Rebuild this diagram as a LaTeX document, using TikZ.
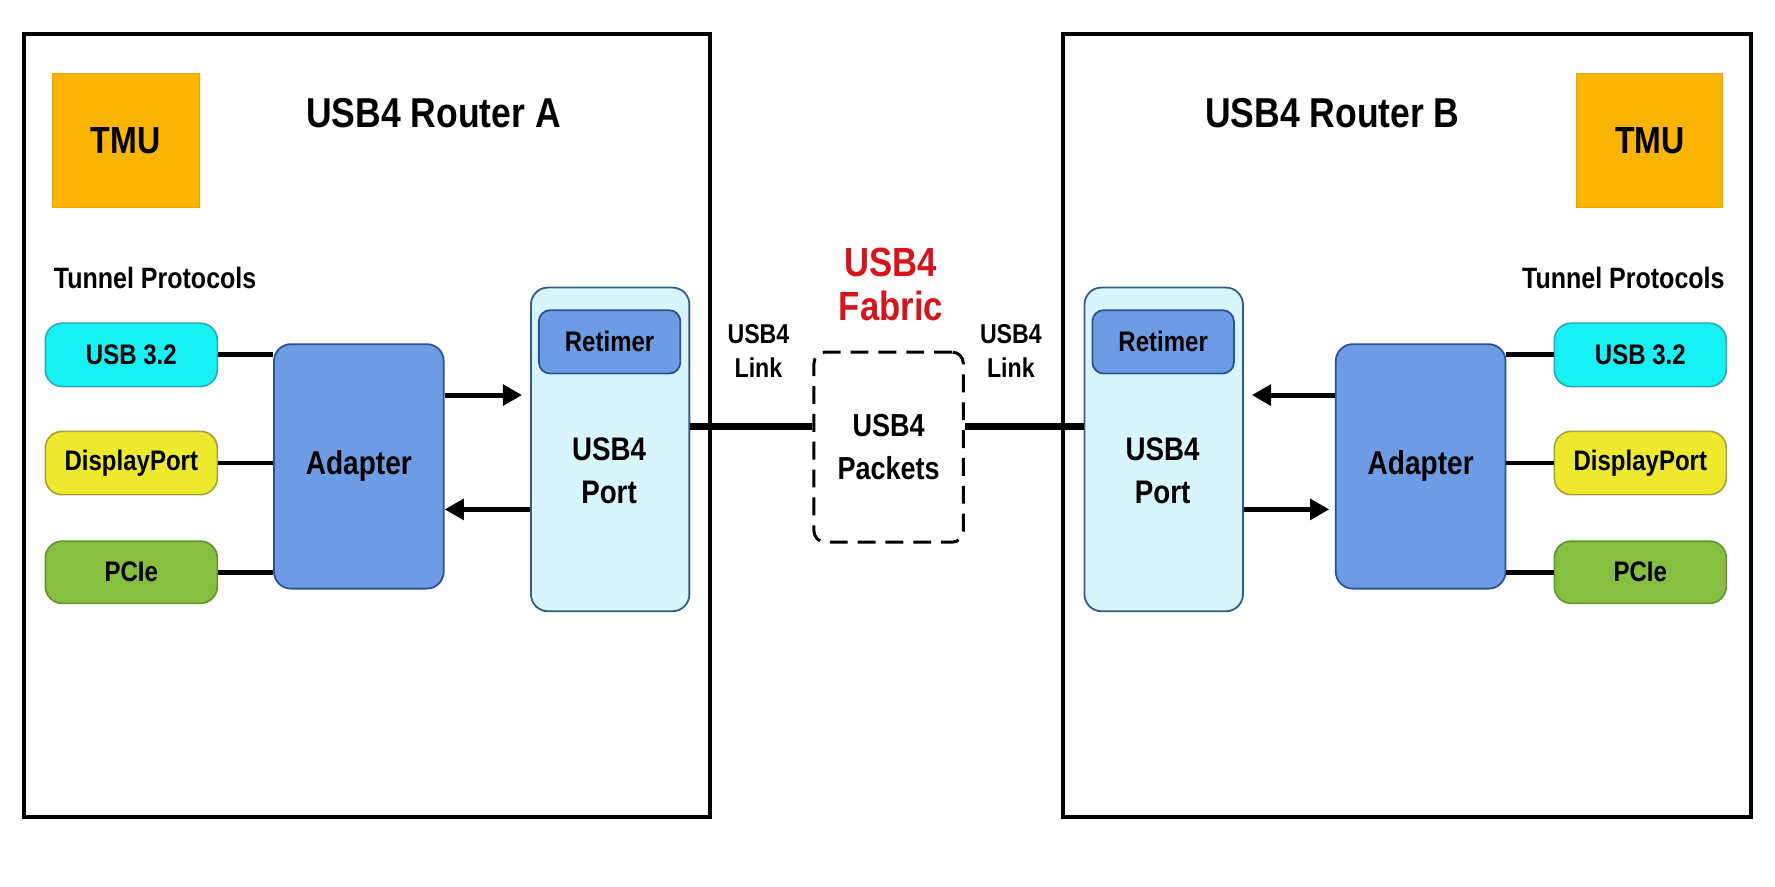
\documentclass[tikz,border=0pt]{standalone}
\usepackage{fontspec}
\setmainfont{Liberation Sans}[FakeStretch=0.85]
\usetikzlibrary{arrows.meta,calc}
\definecolor{tmuor}{HTML}{FBB400}
\definecolor{tmuedge}{HTML}{E8A400}
\definecolor{cyanf}{HTML}{16F1F6}
\definecolor{cyane}{HTML}{2BA9B3}
\definecolor{yelf}{HTML}{EDE92C}
\definecolor{yele}{HTML}{A9A232}
\definecolor{grnf}{HTML}{86BE40}
\definecolor{grne}{HTML}{5C962C}
\definecolor{adf}{HTML}{6D9CE4}
\definecolor{ade}{HTML}{2C5296}
\definecolor{portf}{HTML}{D8F4FC}
\definecolor{porte}{HTML}{2F5E8E}
\definecolor{fabred}{HTML}{D8141A}
\begin{document}
\begin{tikzpicture}[x=0.02cm,y=-0.02cm,
  routerbox/.style={draw=black, line width=1.8pt, fill=white, minimum width=12.12cm, minimum height=13.84cm, inner sep=0pt},
  tmubox/.style={draw=tmuedge, line width=0.5pt, fill=tmuor, minimum width=2.6cm, minimum height=2.36cm, inner sep=0pt, font=\fontsize{19}{21}\selectfont\bfseries},
  title/.style={font=\fontsize{21}{24}\selectfont\bfseries, inner sep=0pt},
  tptext/.style={font=\fontsize{14.8}{17}\selectfont\bfseries, inner sep=0pt},
  pill/.style={draw, line width=0.8pt, rounded corners=0.3cm, minimum width=3.04cm, minimum height=1.12cm, inner sep=0pt, font=\fontsize{14.2}{16}\selectfont\bfseries},
  adapterbox/.style={draw=ade, line width=0.9pt, fill=adf, rounded corners=0.3cm, minimum width=3.0cm, minimum height=4.32cm, inner sep=0pt, font=\fontsize{16.6}{19}\selectfont\bfseries},
  portbox/.style={draw=porte, line width=0.9pt, fill=portf, rounded corners=0.3cm, minimum width=2.8cm, minimum height=5.72cm, inner sep=0pt},
  retbox/.style={draw=ade, line width=0.9pt, fill=adf, rounded corners=0.2cm, minimum width=2.5cm, minimum height=1.12cm, inner sep=0pt, font=\fontsize{14.2}{16}\selectfont\bfseries},
  porttext/.style={font=\fontsize{16.4}{21.5}\selectfont\bfseries, align=center, inner sep=0pt},
  pktbox/.style={draw=black, line width=1.5pt, dash pattern=on 9pt off 5pt, rounded corners=0.2cm, minimum width=2.64cm, minimum height=3.36cm, inner sep=0pt, font=\fontsize{16}{21.5}\selectfont\bfseries, align=center},
  fabtext/.style={font=\fontsize{20.5}{22}\selectfont\bfseries, text=fabred, align=center, inner sep=0pt},
  linktext/.style={font=\fontsize{13.7}{17}\selectfont\bfseries, align=center, inner sep=0pt},
  conn/.style={line width=2.5pt},
  arr/.style={line width=2.5pt, -{Triangle[length=0.34cm,width=0.36cm]}},
  linkline/.style={line width=3.6pt}
]
\useasboundingbox[fill=white] (0,0) rectangle (1568,783);

% Router boxes
\node[routerbox] (rA) at (324,376) {};
\node[routerbox, minimum width=12.16cm] (rB) at (1243,376) {};

% TMU
\node[tmubox] (tmuA) at (111,124) {TMU};
\node[tmubox, minimum width=2.58cm] (tmuB) at (1457.5,124) {TMU};

% Titles
\node[title] (titA) at (383,100) {USB4 Router A};
\node[title] (titB) at (1177,100) {USB4 Router B};

% Tunnel protocols labels
\node[tptext] (tpA) at (137,246) {Tunnel Protocols};
\node[tptext] (tpB) at (1434,246) {Tunnel Protocols};

% Protocol pills A
\node[pill, draw=cyane, fill=cyanf] (usbA) at (116,313.5) {USB 3.2};
\node[pill, draw=yele, fill=yelf] (dpA) at (116,409) {DisplayPort};
\node[pill, draw=grne, fill=grnf, minimum height=1.1cm] (pcieA) at (116,505.5) {PCIe};

% Protocol pills B
\node[pill, draw=cyane, fill=cyanf] (usbB) at (1449,313.5) {USB 3.2};
\node[pill, draw=yele, fill=yelf] (dpB) at (1449,409) {DisplayPort};
\node[pill, draw=grne, fill=grnf, minimum height=1.1cm] (pcieB) at (1449,505.5) {PCIe};

% Adapters
\node[adapterbox] (adA) at (317,412) {Adapter};
\node[adapterbox] (adB) at (1255,412) {Adapter};

% Ports
\node[portbox] (portA) at (539,397) {};
\node[retbox] (retA) at (538.5,302) {Retimer};
\node[porttext] (plA) at (538,416) {USB4\\Port};
\node[portbox] (portB) at (1028,397) {};
\node[retbox] (retB) at (1027.5,302) {Retimer};
\node[porttext] (plB) at (1027,416) {USB4\\Port};

% Fabric
\node[pktbox] (pkt) at (785,395) {USB4\\Packets};
\node[fabtext] (fab) at (787,251) {USB4\\Fabric};
\node[linktext] (lkA) at (670,310) {USB4\\Link};
\node[linktext] (lkB) at (893,310) {USB4\\Link};

% helper y-levels
\coordinate (yup) at (0,349);
\coordinate (ydn) at (0,450);
\coordinate (ylk) at (0,377);

% Pills to adapters
\draw[conn] (usbA.east) -- (usbA.east -| adA.west);
\draw[conn] (dpA.east) -- (dpA.east -| adA.west);
\draw[conn] (pcieA.east) -- (pcieA.east -| adA.west);
\draw[conn] (usbB.west) -- (usbB.west -| adB.east);
\draw[conn] (dpB.west) -- (dpB.west -| adB.east);
\draw[conn] (pcieB.west) -- (pcieB.west -| adB.east);

% Adapter <-> port arrows
\draw[arr, shorten >=0.14cm] (adA.east |- yup) -- (portA.west |- yup);
\draw[arr] (portA.west |- ydn) -- (adA.east |- ydn);
\draw[arr, shorten >=0.14cm] (adB.west |- yup) -- (portB.east |- yup);
\draw[arr, shorten >=0.1cm] (portB.east |- ydn) -- (adB.west |- ydn);

% Links
\draw[linkline] (portA.east |- ylk) -- (pkt.west |- ylk);
\draw[linkline] (pkt.east |- ylk) -- (portB.west |- ylk);
\end{tikzpicture}
\end{document}
